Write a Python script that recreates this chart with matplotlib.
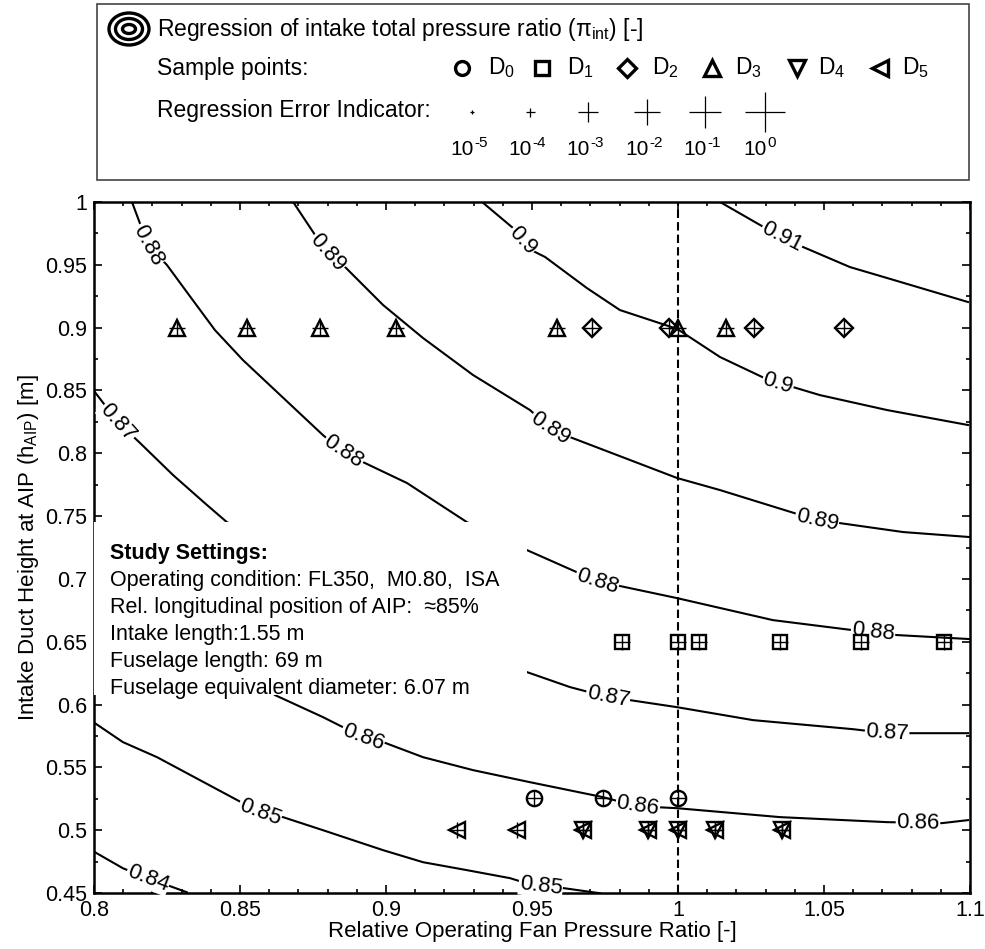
import numpy as np
import matplotlib
matplotlib.use("Agg")
import matplotlib.pyplot as plt
from matplotlib.patches import Rectangle, Ellipse
from matplotlib.ticker import MultipleLocator, FormatStrFormatter

plt.rcParams['font.family'] = ['Liberation Sans', 'DejaVu Sans']
plt.rcParams['mathtext.fontset'] = 'custom'
plt.rcParams['mathtext.rm'] = 'Liberation Sans'
plt.rcParams['mathtext.it'] = 'Liberation Serif:italic'
plt.rcParams['mathtext.default'] = 'regular'

# --- contour lines of intake total pressure ratio ---
# x = relative operating fan pressure ratio, y = duct height at AIP [m]
c084_x = [0.8003, 0.8099, 0.8185, 0.8318]
c084_y = [0.4825, 0.4697, 0.4618, 0.4506]

c085_x = [0.8003, 0.8099, 0.8216, 0.8363, 0.8568, 0.8647, 0.8784, 0.8990, 0.9127, 0.9277, 0.9425, 0.9503, 0.9586, 0.9733]
c085_y = [0.5852, 0.5701, 0.5581, 0.5398, 0.5143, 0.5104, 0.5000, 0.4841, 0.4745, 0.4682, 0.4618, 0.4562, 0.4546, 0.4498]

c086_x = [0.8620, 0.8784, 0.8921, 0.8990, 0.9127, 0.9298, 0.9493, 0.9743, 0.9860, 0.9997, 1.0349, 1.0716, 1.0904, 1.0993]
c086_y = [0.6075, 0.5900, 0.5740, 0.5701, 0.5581, 0.5478, 0.5382, 0.5263, 0.5191, 0.5175, 0.5104, 0.5064, 0.5056, 0.5080]

c087_x = [0.8003, 0.8082, 0.8158, 0.8271, 0.8387, 0.8455, 0.9483, 0.9630, 0.9760, 0.9836, 0.9997, 1.0257, 1.0599, 1.0716, 1.0993]
c087_y = [0.8487, 0.8248, 0.8081, 0.7826, 0.7588, 0.7452, 0.6258, 0.6139, 0.6059, 0.6035, 0.5979, 0.5876, 0.5804, 0.5772, 0.5772]

c088_x = [0.8130, 0.8185, 0.8250, 0.8318, 0.8414, 0.8510, 0.8627, 0.8784, 0.8853, 0.8921, 0.9072, 0.9277,
          0.9483, 0.9723, 0.9997, 1.0325, 1.0599, 1.0750, 1.1000]
c088_y = [1.0000, 0.9658, 0.9498, 0.9283, 0.8981, 0.8742, 0.8487, 0.8145, 0.8010, 0.7930, 0.7763, 0.7452,
          0.7229, 0.6982, 0.6847, 0.6672, 0.6592, 0.6553, 0.6521]

c089_x = [0.8682, 0.8798, 0.8860, 0.8990, 0.9127, 0.9298, 0.9493, 0.9562, 0.9630, 0.9791, 0.9997, 1.0144,
          1.0476, 1.0555, 1.0771, 1.1000]
c089_y = [1.0000, 0.9594, 0.9482, 0.9180, 0.8917, 0.8623, 0.8344, 0.8201, 0.8129, 0.7986, 0.7803, 0.7707,
          0.7468, 0.7444, 0.7373, 0.7333]

c090_x = [0.9329, 0.9435, 0.9483, 0.9545, 0.9688, 0.9801, 0.9997, 1.0144, 1.0332, 1.0394, 1.0486, 1.0716, 1.0993]
c090_y = [1.0000, 0.9793, 0.9634, 0.9562, 0.9315, 0.9140, 0.8990, 0.8766, 0.8559, 0.8527, 0.8463, 0.8344, 0.8225]

c091_x = [1.0144, 1.0281, 1.0356, 1.0428, 1.0589, 1.0716, 1.0993]
c091_y = [1.0000, 0.9817, 0.9721, 0.9642, 0.9482, 0.9395, 0.9204]

levels = [0.84, 0.85, 0.86, 0.87, 0.88, 0.89, 0.90, 0.91]
level_x = [c084_x, c085_x, c086_x, c087_x, c088_x, c089_x, c090_x, c091_x]
level_y = [c084_y, c085_y, c086_y, c087_y, c088_y, c089_y, c090_y, c091_y]
label_text = ['0.84', '0.85', '0.86', '0.87', '0.88', '0.89', '0.9', '0.91']

# --- sample points of the designs ---
d0_x = [0.9507, 0.9743, 1.0]
d0_y = [0.526, 0.526, 0.526]
d1_x = [0.9808, 1.0, 1.0072, 1.0349, 1.0627, 1.0911]
d1_y = [0.65] * 6
d2_x = [0.9705, 0.997, 1.026, 1.0568]
d2_y = [0.9] * 4
d3_x = [0.8284, 0.8524, 0.8774, 0.9034, 0.9586, 1.0, 1.0164]
d3_y = [0.9] * 7
d4_x = [0.9675, 0.9897, 1.0, 1.0127, 1.0356]
d4_y = [0.5] * 5
d5_x = [0.9243, 0.9449, 0.9675, 0.9897, 1.0, 1.0127, 1.0356]
d5_y = [0.5] * 7

error_exponents = [-5, -4, -3, -2, -1, 0]

settings_lines = [
    "Operating condition: FL350,  M0.80,  ISA",
    "Rel. longitudinal position of AIP:  \u224885%",
    "Intake length:1.55 m",
    "Fuselage length: 69 m",
    "Fuselage equivalent diameter: 6.07 m",
]

W, H = 985, 949
fig = plt.figure(figsize=(W / 100, H / 100), dpi=100)
ax = fig.add_axes([94 / W, 1 - 893 / H, 876 / W, 691 / H])
ax.set_xlim(0.8, 1.1)
ax.set_ylim(0.45, 1.0)

# contour lines
for xs, ys in zip(level_x, level_y):
    ax.plot(xs, ys, color='black', lw=1.5, zorder=2, solid_joinstyle='round')

# inline labels (x position along each line)
label_pos = {
    0.84: [0.8185],
    0.85: [0.8568, 0.9530],
    0.86: [0.8921, 0.9862, 1.0822],
    0.87: [0.8082, 0.9760, 1.0716],
    0.88: [0.8185, 0.8853, 0.9723, 1.0668],
    0.89: [0.8798, 0.9562, 1.0476],
    0.90: [0.9466, 1.0342],
    0.91: [1.0356],
}
fig.canvas.draw()
for lev, xs, ys, txt in zip(levels, level_x, level_y, label_text):
    for x0 in label_pos[lev]:
        y0 = np.interp(x0, xs, ys)
        ya = np.interp(x0 - 0.004, xs, ys)
        yb = np.interp(x0 + 0.004, xs, ys)
        pa = ax.transData.transform((x0 - 0.004, ya))
        pb = ax.transData.transform((x0 + 0.004, yb))
        ang = np.degrees(np.arctan2(pb[1] - pa[1], pb[0] - pa[0]))
        ax.text(x0, y0, txt, fontsize=16, rotation=ang, rotation_mode='anchor',
                ha='center', va='center', zorder=3, clip_on=False,
                bbox=dict(facecolor='white', edgecolor='none', pad=0.4))

# study settings box
ax.add_patch(Rectangle((0.8, 0.6075), 0.1483, 0.1377, facecolor='white', edgecolor='none', zorder=4))
ax.text(0.8055, 0.7205, "Study Settings:", fontsize=15.5, fontweight='bold', va='center', zorder=5)
for i, line in enumerate(settings_lines):
    ax.text(0.8055, 0.699 - i * 0.0215, line, fontsize=15.5, va='center', zorder=5)

# dashed reference line
ax.axvline(1.0, color='black', lw=1.5, ls=(0, (4, 2)), zorder=3)

# sample points with error crosses
mk = dict(ls='none', mfc='none', mec='black', mew=1.7, zorder=6)
ax.plot(d0_x, d0_y, marker='o', ms=11, **mk)
ax.plot(d1_x, d1_y, marker='s', ms=10, **mk)
ax.plot(d2_x, d2_y, marker='D', ms=9, **mk)
ax.plot(d3_x, d3_y, marker='^', ms=12, **mk)
ax.plot(d4_x, d4_y, marker='v', ms=12, **mk)
ax.plot(d5_x, d5_y, marker='<', ms=12, **mk)
for xs, ys in [(d0_x, d0_y), (d1_x, d1_y), (d2_x, d2_y), (d3_x, d3_y), (d4_x, d4_y), (d5_x, d5_y)]:
    ax.plot(xs, ys, ls='none', marker='+', ms=11, mew=1.0, color='black', zorder=7)

ax.xaxis.set_major_locator(MultipleLocator(0.05))
ax.xaxis.set_minor_locator(MultipleLocator(0.01))
ax.yaxis.set_major_locator(MultipleLocator(0.05))
ax.yaxis.set_minor_locator(MultipleLocator(0.025))
ax.xaxis.set_major_formatter(FormatStrFormatter('%g'))
ax.yaxis.set_major_formatter(FormatStrFormatter('%g'))
ax.tick_params(which='both', direction='in', top=True, right=True, labelsize=15.5, width=1.2)
ax.tick_params(which='major', length=6, pad=5)
ax.tick_params(which='minor', length=3)
for sp in ax.spines.values():
    sp.set_linewidth(1.8)
ax.set_xlabel("Relative Operating Fan Pressure Ratio [-]", fontsize=16, labelpad=0)
ax.set_ylabel("Intake Duct Height at AIP (h$_{AIP}$) [m]", fontsize=16, labelpad=3)

# --- legend panel drawn in pixel coordinates ---
lg = fig.add_axes([0, 0, 1, 1])
lg.set_xlim(0, W)
lg.set_ylim(H, 0)
lg.axis('off')
lg.patch.set_alpha(0)
lg.add_patch(Rectangle((97, 4), 872, 176, fill=False, edgecolor='#444444', lw=1.2))
for w, h in [(40, 32), (27, 21), (13, 9)]:
    lg.add_patch(Ellipse((129, 29), w, h, fill=False, edgecolor='black', lw=2.4))
lg.text(157, 29, r"Regression of intake total pressure ratio ($\pi_{int}$) [-]", fontsize=16.5, va='center')
lg.text(157, 68, "Sample points:", fontsize=16.5, va='center')
lg.text(157, 110, "Regression Error Indicator:", fontsize=16.5, va='center')

leg_markers = ['o', 's', 'D', '^', 'v', '<']
leg_sizes = [10, 10, 9, 11, 11, 11]
leg_mx = [462, 542, 627, 712, 797, 880]
leg_tx = [488, 567, 652, 735, 818, 902]
for k, (m, s, mx, tx) in enumerate(zip(leg_markers, leg_sizes, leg_mx, leg_tx)):
    lg.plot([mx], [68], marker=m, ms=s, mfc='none', mec='black', mew=2.4)
    lg.text(tx, 68, "D$_{%d}$" % k, fontsize=16.5, va='center')

cross_x = [472, 530, 588, 647, 705, 765]
cross_px = [4, 9, 20, 27, 32, 40]
for e, cx, cp in zip(error_exponents, cross_x, cross_px):
    lg.plot([cx], [112], marker='+', ms=cp * 0.72, mew=0.9, color='black')
    lg.text(cx + 2, 149, "10", fontsize=15, ha='right', va='center')
    lg.text(cx + 2, 143, str(e), fontsize=11, ha='left', va='center')

fig.savefig("out.png", dpi=100)
